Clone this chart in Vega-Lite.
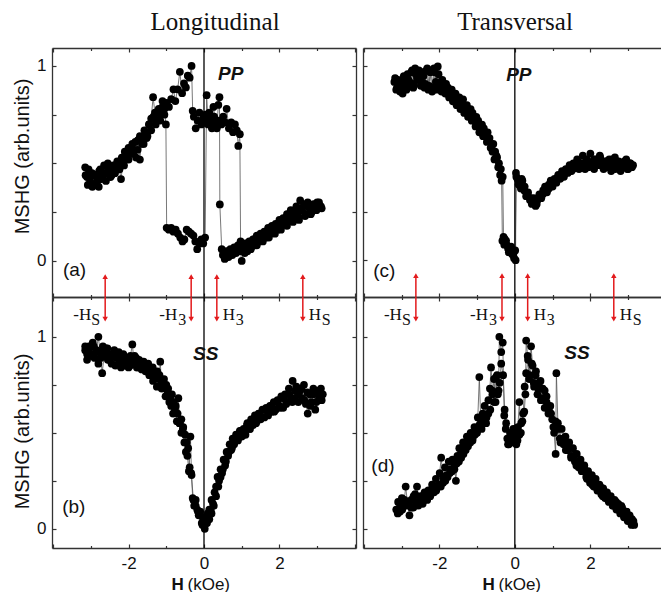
{
  "$schema": "https://vega.github.io/schema/vega-lite/v6.json",
  "background": "white",
  "padding": {"left": 12, "top": 10, "right": 0, "bottom": 0},
  "bounds": "flush",
  "columns": 2,
  "align": "each",
  "spacing": {"row": 0, "column": 7},
  "config": {
    "view": {"stroke": null},
    "font": "Liberation Sans",
    "axis": {"grid": false, "domainColor": "#333", "domainWidth": 1.3, "tickColor": "#333", "tickWidth": 1.2, "labelFont": "Liberation Sans", "labelColor": "#111", "titleFont": "Liberation Sans", "titleColor": "#111"}
  },
  "datasets": {
    "a": [{"x":-3.15,"y":0.48},{"x":-3.1,"y":0.43},{"x":-3.06,"y":0.47},{"x":-3.02,"y":0.4},{"x":-2.97,"y":0.45},{"x":-2.93,"y":0.39},{"x":-2.88,"y":0.44},{"x":-2.84,"y":0.41},{"x":-2.79,"y":0.38},{"x":-2.75,"y":0.47},{"x":-2.7,"y":0.43},{"x":-2.65,"y":0.49},{"x":-2.6,"y":0.45},{"x":-2.55,"y":0.5},{"x":-2.5,"y":0.46},{"x":-2.45,"y":0.44},{"x":-2.4,"y":0.49},{"x":-2.35,"y":0.47},{"x":-2.3,"y":0.51},{"x":-2.25,"y":0.48},{"x":-2.2,"y":0.42},{"x":-2.15,"y":0.5},{"x":-2.1,"y":0.56},{"x":-2.05,"y":0.53},{"x":-2.0,"y":0.58},{"x":-1.95,"y":0.55},{"x":-1.9,"y":0.6},{"x":-1.85,"y":0.57},{"x":-1.8,"y":0.53},{"x":-1.75,"y":0.62},{"x":-1.7,"y":0.52},{"x":-1.65,"y":0.63},{"x":-1.6,"y":0.6},{"x":-1.55,"y":0.66},{"x":-1.5,"y":0.64},{"x":-1.45,"y":0.7},{"x":-1.4,"y":0.73},{"x":-1.35,"y":0.84},{"x":-1.3,"y":0.76},{"x":-1.25,"y":0.72},{"x":-1.2,"y":0.78},{"x":-1.15,"y":0.75},{"x":-1.1,"y":0.82},{"x":-1.05,"y":0.78},{"x":-1.01,"y":0.7},{"x":-0.99,"y":0.17},{"x":-0.93,"y":0.16},{"x":-0.87,"y":0.17},{"x":-0.81,"y":0.15},{"x":-0.75,"y":0.16},{"x":-0.69,"y":0.14},{"x":-0.63,"y":0.12},{"x":-0.57,"y":0.1},{"x":-0.52,"y":0.11},{"x":-0.46,"y":0.16},{"x":-0.4,"y":0.15},{"x":-0.34,"y":0.14},{"x":-0.28,"y":0.13},{"x":-0.23,"y":0.1},{"x":-0.18,"y":0.06},{"x":-0.12,"y":0.09},{"x":-0.07,"y":0.11},{"x":-0.02,"y":0.09},{"x":0.03,"y":0.12},{"x":0.07,"y":0.85},{"x":0.11,"y":0.7},{"x":0.16,"y":0.74},{"x":0.21,"y":0.68},{"x":0.25,"y":0.79},{"x":0.3,"y":0.72},{"x":0.34,"y":0.68},{"x":0.38,"y":0.8},{"x":0.41,"y":0.84},{"x":0.42,"y":0.29},{"x":0.47,"y":0.06},{"x":0.5,"y":0.03},{"x":0.55,"y":0.01},{"x":0.6,"y":0.05},{"x":0.65,"y":0.02},{"x":0.7,"y":0.06},{"x":0.75,"y":0.03},{"x":0.8,"y":0.07},{"x":0.85,"y":0.04},{"x":0.9,"y":0.08},{"x":0.96,"y":0.05},{"x":1.0,"y":0.0},{"x":1.05,"y":0.06},{"x":1.1,"y":0.09},{"x":1.15,"y":0.05},{"x":1.2,"y":0.1},{"x":1.25,"y":0.07},{"x":1.3,"y":0.11},{"x":1.35,"y":0.08},{"x":1.4,"y":0.13},{"x":1.45,"y":0.1},{"x":1.5,"y":0.14},{"x":1.55,"y":0.11},{"x":1.6,"y":0.15},{"x":1.65,"y":0.12},{"x":1.7,"y":0.17},{"x":1.75,"y":0.14},{"x":1.8,"y":0.18},{"x":1.85,"y":0.15},{"x":1.9,"y":0.19},{"x":1.95,"y":0.16},{"x":2.0,"y":0.21},{"x":2.05,"y":0.18},{"x":2.1,"y":0.22},{"x":2.15,"y":0.2},{"x":2.2,"y":0.24},{"x":2.25,"y":0.21},{"x":2.3,"y":0.26},{"x":2.35,"y":0.22},{"x":2.4,"y":0.25},{"x":2.45,"y":0.28},{"x":2.5,"y":0.23},{"x":2.55,"y":0.31},{"x":2.6,"y":0.26},{"x":2.65,"y":0.29},{"x":2.7,"y":0.24},{"x":2.75,"y":0.3},{"x":2.8,"y":0.27},{"x":2.85,"y":0.25},{"x":2.9,"y":0.29},{"x":2.95,"y":0.26},{"x":3.0,"y":0.3},{"x":3.05,"y":0.27},{"x":3.1,"y":0.28},
      {"x":3.12,"y":0.27},{"x":3.05,"y":0.3},{"x":2.98,"y":0.26},{"x":2.9,"y":0.29},{"x":2.83,"y":0.24},{"x":2.76,"y":0.28},{"x":2.68,"y":0.23},{"x":2.6,"y":0.27},{"x":2.52,"y":0.21},{"x":2.44,"y":0.25},{"x":2.36,"y":0.2},{"x":2.28,"y":0.23},{"x":2.2,"y":0.18},{"x":2.12,"y":0.21},{"x":2.04,"y":0.16},{"x":1.96,"y":0.19},{"x":1.88,"y":0.14},{"x":1.8,"y":0.17},{"x":1.72,"y":0.12},{"x":1.64,"y":0.15},{"x":1.56,"y":0.1},{"x":1.48,"y":0.13},{"x":1.4,"y":0.08},{"x":1.32,"y":0.11},{"x":1.24,"y":0.06},{"x":1.16,"y":0.09},{"x":1.08,"y":0.04},{"x":1.0,"y":0.07},{"x":0.97,"y":0.1},{"x":0.95,"y":0.65},{"x":0.91,"y":0.59},{"x":0.87,"y":0.67},{"x":0.82,"y":0.7},{"x":0.77,"y":0.66},{"x":0.72,"y":0.71},{"x":0.66,"y":0.68},{"x":0.6,"y":0.78},{"x":0.56,"y":0.71},{"x":0.51,"y":0.74},{"x":0.46,"y":0.7},{"x":0.39,"y":0.72},{"x":0.33,"y":0.69},{"x":0.27,"y":0.74},{"x":0.2,"y":0.71},{"x":0.14,"y":0.76},{"x":0.09,"y":0.72},{"x":0.04,"y":0.75},{"x":-0.02,"y":0.73},{"x":-0.07,"y":0.7},{"x":-0.12,"y":0.76},{"x":-0.17,"y":0.72},{"x":-0.22,"y":0.68},{"x":-0.27,"y":0.74},{"x":-0.3,"y":0.77},{"x":-0.33,"y":1.0},{"x":-0.38,"y":0.94},{"x":-0.43,"y":0.95},{"x":-0.48,"y":0.89},{"x":-0.53,"y":0.91},{"x":-0.58,"y":0.86},{"x":-0.64,"y":0.97},{"x":-0.7,"y":0.88},{"x":-0.76,"y":0.82},{"x":-0.81,"y":0.88},{"x":-0.87,"y":0.83},{"x":-0.93,"y":0.79},{"x":-0.99,"y":0.81},{"x":-1.05,"y":0.75},{"x":-1.1,"y":0.79},{"x":-1.16,"y":0.72},{"x":-1.22,"y":0.76},{"x":-1.28,"y":0.7},{"x":-1.34,"y":0.74},{"x":-1.4,"y":0.67},{"x":-1.46,"y":0.7},{"x":-1.52,"y":0.63},{"x":-1.58,"y":0.67},{"x":-1.64,"y":0.6},{"x":-1.7,"y":0.64},{"x":-1.76,"y":0.57},{"x":-1.82,"y":0.61},{"x":-1.88,"y":0.55},{"x":-1.94,"y":0.58},{"x":-2.0,"y":0.52},{"x":-2.06,"y":0.55},{"x":-2.12,"y":0.49},{"x":-2.18,"y":0.53},{"x":-2.24,"y":0.47},{"x":-2.3,"y":0.5},{"x":-2.36,"y":0.45},{"x":-2.42,"y":0.48},{"x":-2.48,"y":0.43},{"x":-2.54,"y":0.47},{"x":-2.6,"y":0.41},{"x":-2.66,"y":0.45},{"x":-2.72,"y":0.42},{"x":-2.78,"y":0.46},{"x":-2.84,"y":0.4},{"x":-2.9,"y":0.44},{"x":-2.96,"y":0.38},{"x":-3.02,"y":0.43},{"x":-3.08,"y":0.39},{"x":-3.14,"y":0.44}],
    "c": [{"x":-3.19,"y":0.92},{"x":-3.14,"y":0.88},{"x":-3.09,"y":0.93},{"x":-3.04,"y":0.87},{"x":-2.99,"y":0.91},{"x":-2.94,"y":0.95},{"x":-2.89,"y":0.9},{"x":-2.84,"y":0.96},{"x":-2.79,"y":0.92},{"x":-2.74,"y":0.97},{"x":-2.69,"y":0.89},{"x":-2.64,"y":0.99},{"x":-2.59,"y":0.94},{"x":-2.54,"y":0.98},{"x":-2.49,"y":0.9},{"x":-2.44,"y":0.97},{"x":-2.39,"y":0.89},{"x":-2.34,"y":0.98},{"x":-2.29,"y":0.88},{"x":-2.24,"y":0.97},{"x":-2.19,"y":0.87},{"x":-2.14,"y":0.99},{"x":-2.09,"y":0.92},{"x":-2.04,"y":1.0},{"x":-1.99,"y":0.9},{"x":-1.94,"y":0.87},{"x":-1.89,"y":0.9},{"x":-1.84,"y":0.86},{"x":-1.79,"y":0.88},{"x":-1.74,"y":0.84},{"x":-1.69,"y":0.86},{"x":-1.64,"y":0.82},{"x":-1.59,"y":0.84},{"x":-1.54,"y":0.8},{"x":-1.49,"y":0.82},{"x":-1.44,"y":0.78},{"x":-1.39,"y":0.8},{"x":-1.34,"y":0.76},{"x":-1.29,"y":0.78},{"x":-1.24,"y":0.74},{"x":-1.19,"y":0.76},{"x":-1.14,"y":0.72},{"x":-1.09,"y":0.73},{"x":-1.04,"y":0.69},{"x":-0.99,"y":0.7},{"x":-0.94,"y":0.66},{"x":-0.89,"y":0.67},{"x":-0.84,"y":0.64},{"x":-0.79,"y":0.65},{"x":-0.74,"y":0.61},{"x":-0.69,"y":0.62},{"x":-0.64,"y":0.58},{"x":-0.59,"y":0.56},{"x":-0.54,"y":0.52},{"x":-0.49,"y":0.54},{"x":-0.44,"y":0.48},{"x":-0.39,"y":0.44},{"x":-0.35,"y":0.41},{"x":-0.33,"y":0.1},{"x":-0.28,"y":0.08},{"x":-0.23,"y":0.1},{"x":-0.18,"y":0.06},{"x":-0.12,"y":0.05},{"x":-0.07,"y":0.03},{"x":-0.02,"y":0.01},{"x":0.02,"y":0.0},{"x":0.03,"y":0.45},{"x":0.07,"y":0.42},{"x":0.11,"y":0.4},{"x":0.16,"y":0.37},{"x":0.2,"y":0.41},{"x":0.25,"y":0.36},{"x":0.3,"y":0.33},{"x":0.35,"y":0.35},{"x":0.4,"y":0.31},{"x":0.45,"y":0.29},{"x":0.5,"y":0.32},{"x":0.55,"y":0.28},{"x":0.6,"y":0.31},{"x":0.65,"y":0.34},{"x":0.7,"y":0.32},{"x":0.75,"y":0.36},{"x":0.8,"y":0.38},{"x":0.85,"y":0.35},{"x":0.9,"y":0.39},{"x":0.95,"y":0.41},{"x":1.0,"y":0.38},{"x":1.05,"y":0.42},{"x":1.1,"y":0.4},{"x":1.15,"y":0.44},{"x":1.2,"y":0.42},{"x":1.25,"y":0.46},{"x":1.3,"y":0.43},{"x":1.35,"y":0.47},{"x":1.4,"y":0.45},{"x":1.45,"y":0.49},{"x":1.5,"y":0.46},{"x":1.55,"y":0.5},{"x":1.6,"y":0.48},{"x":1.65,"y":0.52},{"x":1.7,"y":0.47},{"x":1.75,"y":0.5},{"x":1.8,"y":0.54},{"x":1.85,"y":0.49},{"x":1.9,"y":0.52},{"x":1.95,"y":0.48},{"x":2.0,"y":0.55},{"x":2.05,"y":0.5},{"x":2.1,"y":0.47},{"x":2.15,"y":0.52},{"x":2.2,"y":0.49},{"x":2.25,"y":0.54},{"x":2.3,"y":0.5},{"x":2.35,"y":0.47},{"x":2.4,"y":0.51},{"x":2.45,"y":0.48},{"x":2.5,"y":0.52},{"x":2.55,"y":0.46},{"x":2.6,"y":0.5},{"x":2.65,"y":0.53},{"x":2.7,"y":0.48},{"x":2.75,"y":0.51},{"x":2.8,"y":0.46},{"x":2.85,"y":0.5},{"x":2.9,"y":0.48},{"x":2.95,"y":0.52},{"x":3.0,"y":0.47},{"x":3.05,"y":0.5},{"x":3.1,"y":0.48},
      {"x":3.13,"y":0.49},{"x":3.06,"y":0.5},{"x":2.98,"y":0.47},{"x":2.9,"y":0.51},{"x":2.82,"y":0.48},{"x":2.74,"y":0.5},{"x":2.66,"y":0.47},{"x":2.58,"y":0.52},{"x":2.5,"y":0.49},{"x":2.42,"y":0.51},{"x":2.34,"y":0.48},{"x":2.26,"y":0.53},{"x":2.18,"y":0.49},{"x":2.1,"y":0.52},{"x":2.02,"y":0.5},{"x":1.94,"y":0.51},{"x":1.86,"y":0.47},{"x":1.78,"y":0.5},{"x":1.7,"y":0.48},{"x":1.62,"y":0.49},{"x":1.54,"y":0.47},{"x":1.46,"y":0.46},{"x":1.38,"y":0.46},{"x":1.3,"y":0.44},{"x":1.22,"y":0.43},{"x":1.14,"y":0.43},{"x":1.06,"y":0.41},{"x":0.98,"y":0.4},{"x":0.9,"y":0.37},{"x":0.82,"y":0.37},{"x":0.74,"y":0.34},{"x":0.66,"y":0.32},{"x":0.58,"y":0.29},{"x":0.5,"y":0.3},{"x":0.42,"y":0.32},{"x":0.34,"y":0.34},{"x":0.26,"y":0.38},{"x":0.18,"y":0.42},{"x":0.1,"y":0.39},{"x":0.04,"y":0.43},{"x":0.01,"y":0.05},{"x":-0.04,"y":0.03},{"x":-0.1,"y":0.07},{"x":-0.16,"y":0.04},{"x":-0.22,"y":0.08},{"x":-0.27,"y":0.11},{"x":-0.3,"y":0.12},{"x":-0.32,"y":0.43},{"x":-0.37,"y":0.47},{"x":-0.42,"y":0.5},{"x":-0.47,"y":0.53},{"x":-0.52,"y":0.56},{"x":-0.57,"y":0.6},{"x":-0.62,"y":0.58},{"x":-0.67,"y":0.63},{"x":-0.72,"y":0.66},{"x":-0.77,"y":0.64},{"x":-0.82,"y":0.68},{"x":-0.87,"y":0.7},{"x":-0.92,"y":0.68},{"x":-0.97,"y":0.72},{"x":-1.02,"y":0.74},{"x":-1.07,"y":0.72},{"x":-1.12,"y":0.76},{"x":-1.17,"y":0.78},{"x":-1.22,"y":0.76},{"x":-1.27,"y":0.8},{"x":-1.32,"y":0.79},{"x":-1.37,"y":0.83},{"x":-1.42,"y":0.81},{"x":-1.47,"y":0.84},{"x":-1.52,"y":0.83},{"x":-1.57,"y":0.86},{"x":-1.62,"y":0.85},{"x":-1.67,"y":0.88},{"x":-1.72,"y":0.87},{"x":-1.77,"y":0.89},{"x":-1.82,"y":0.91},{"x":-1.87,"y":0.88},{"x":-1.92,"y":0.93},{"x":-1.97,"y":0.9},{"x":-2.02,"y":0.96},{"x":-2.07,"y":0.88},{"x":-2.12,"y":0.97},{"x":-2.17,"y":0.89},{"x":-2.22,"y":0.98},{"x":-2.27,"y":0.9},{"x":-2.32,"y":0.99},{"x":-2.37,"y":0.91},{"x":-2.42,"y":0.95},{"x":-2.47,"y":0.92},{"x":-2.52,"y":0.97},{"x":-2.57,"y":0.93},{"x":-2.62,"y":0.96},{"x":-2.67,"y":0.91},{"x":-2.72,"y":0.98},{"x":-2.77,"y":0.9},{"x":-2.82,"y":0.93},{"x":-2.87,"y":0.88},{"x":-2.92,"y":0.92},{"x":-2.97,"y":0.86},{"x":-3.02,"y":0.9},{"x":-3.07,"y":0.92},{"x":-3.12,"y":0.89},{"x":-3.17,"y":0.94}],
    "b": [{"x":-3.15,"y":0.93},{"x":-3.1,"y":0.88},{"x":-3.05,"y":0.95},{"x":-3.0,"y":0.91},{"x":-2.95,"y":0.97},{"x":-2.9,"y":0.89},{"x":-2.85,"y":0.93},{"x":-2.8,"y":0.86},{"x":-2.75,"y":0.92},{"x":-2.7,"y":0.81},{"x":-2.65,"y":0.9},{"x":-2.6,"y":0.94},{"x":-2.55,"y":0.88},{"x":-2.5,"y":0.91},{"x":-2.45,"y":0.86},{"x":-2.4,"y":0.9},{"x":-2.35,"y":0.85},{"x":-2.3,"y":0.91},{"x":-2.25,"y":0.87},{"x":-2.2,"y":0.84},{"x":-2.15,"y":0.89},{"x":-2.1,"y":0.85},{"x":-2.05,"y":0.88},{"x":-2.0,"y":0.84},{"x":-1.95,"y":0.9},{"x":-1.9,"y":0.96},{"x":-1.85,"y":0.86},{"x":-1.8,"y":0.89},{"x":-1.75,"y":0.84},{"x":-1.7,"y":0.87},{"x":-1.65,"y":0.83},{"x":-1.6,"y":0.86},{"x":-1.55,"y":0.82},{"x":-1.5,"y":0.85},{"x":-1.45,"y":0.8},{"x":-1.4,"y":0.83},{"x":-1.35,"y":0.77},{"x":-1.3,"y":0.8},{"x":-1.25,"y":0.74},{"x":-1.2,"y":0.78},{"x":-1.16,"y":0.87},{"x":-1.12,"y":0.73},{"x":-1.07,"y":0.76},{"x":-1.02,"y":0.69},{"x":-0.97,"y":0.72},{"x":-0.92,"y":0.66},{"x":-0.87,"y":0.64},{"x":-0.82,"y":0.6},{"x":-0.77,"y":0.62},{"x":-0.72,"y":0.56},{"x":-0.68,"y":0.68},{"x":-0.64,"y":0.55},{"x":-0.6,"y":0.5},{"x":-0.56,"y":0.52},{"x":-0.52,"y":0.45},{"x":-0.48,"y":0.4},{"x":-0.44,"y":0.38},{"x":-0.4,"y":0.3},{"x":-0.36,"y":0.48},{"x":-0.33,"y":0.28},{"x":-0.3,"y":0.16},{"x":-0.26,"y":0.12},{"x":-0.22,"y":0.15},{"x":-0.18,"y":0.1},{"x":-0.14,"y":0.07},{"x":-0.1,"y":0.09},{"x":-0.06,"y":0.03},{"x":-0.02,"y":0.05},{"x":0.02,"y":0.0},{"x":0.06,"y":0.03},{"x":0.1,"y":0.08},{"x":0.14,"y":0.05},{"x":0.18,"y":0.1},{"x":0.2,"y":0.15},{"x":0.24,"y":0.13},{"x":0.28,"y":0.19},{"x":0.32,"y":0.22},{"x":0.36,"y":0.27},{"x":0.4,"y":0.25},{"x":0.44,"y":0.31},{"x":0.48,"y":0.29},{"x":0.52,"y":0.36},{"x":0.56,"y":0.33},{"x":0.6,"y":0.4},{"x":0.64,"y":0.38},{"x":0.68,"y":0.44},{"x":0.72,"y":0.41},{"x":0.76,"y":0.47},{"x":0.8,"y":0.44},{"x":0.85,"y":0.49},{"x":0.9,"y":0.46},{"x":0.95,"y":0.51},{"x":1.0,"y":0.48},{"x":1.05,"y":0.52},{"x":1.1,"y":0.49},{"x":1.15,"y":0.55},{"x":1.2,"y":0.52},{"x":1.25,"y":0.57},{"x":1.3,"y":0.54},{"x":1.35,"y":0.59},{"x":1.4,"y":0.56},{"x":1.45,"y":0.6},{"x":1.5,"y":0.57},{"x":1.55,"y":0.62},{"x":1.6,"y":0.58},{"x":1.65,"y":0.63},{"x":1.7,"y":0.6},{"x":1.75,"y":0.64},{"x":1.8,"y":0.61},{"x":1.85,"y":0.66},{"x":1.9,"y":0.62},{"x":1.95,"y":0.67},{"x":2.0,"y":0.64},{"x":2.05,"y":0.69},{"x":2.1,"y":0.63},{"x":2.15,"y":0.7},{"x":2.2,"y":0.66},{"x":2.25,"y":0.73},{"x":2.3,"y":0.67},{"x":2.35,"y":0.77},{"x":2.4,"y":0.68},{"x":2.45,"y":0.74},{"x":2.5,"y":0.66},{"x":2.55,"y":0.72},{"x":2.6,"y":0.68},{"x":2.65,"y":0.75},{"x":2.7,"y":0.65},{"x":2.75,"y":0.6},{"x":2.8,"y":0.7},{"x":2.85,"y":0.66},{"x":2.9,"y":0.73},{"x":2.95,"y":0.62},{"x":3.0,"y":0.71},{"x":3.05,"y":0.68},{"x":3.1,"y":0.73},{"x":3.15,"y":0.7},
      {"x":3.12,"y":0.67},{"x":3.05,"y":0.72},{"x":2.98,"y":0.66},{"x":2.9,"y":0.7},{"x":2.82,"y":0.64},{"x":2.74,"y":0.71},{"x":2.66,"y":0.67},{"x":2.58,"y":0.73},{"x":2.5,"y":0.7},{"x":2.42,"y":0.72},{"x":2.34,"y":0.66},{"x":2.26,"y":0.7},{"x":2.18,"y":0.65},{"x":2.1,"y":0.68},{"x":2.02,"y":0.63},{"x":1.94,"y":0.66},{"x":1.86,"y":0.61},{"x":1.78,"y":0.64},{"x":1.7,"y":0.59},{"x":1.62,"y":0.62},{"x":1.54,"y":0.58},{"x":1.46,"y":0.6},{"x":1.38,"y":0.55},{"x":1.3,"y":0.57},{"x":1.22,"y":0.52},{"x":1.14,"y":0.54},{"x":1.06,"y":0.49},{"x":0.98,"y":0.51},{"x":0.9,"y":0.47},{"x":0.82,"y":0.47},{"x":0.74,"y":0.42},{"x":0.66,"y":0.4},{"x":0.58,"y":0.35},{"x":0.5,"y":0.31},{"x":0.44,"y":0.27},{"x":0.38,"y":0.22},{"x":0.32,"y":0.17},{"x":0.26,"y":0.12},{"x":0.2,"y":0.08},{"x":0.14,"y":0.1},{"x":0.08,"y":0.03},{"x":0.02,"y":0.06},{"x":-0.04,"y":0.02},{"x":-0.1,"y":0.07},{"x":-0.16,"y":0.09},{"x":-0.22,"y":0.12},{"x":-0.28,"y":0.15},{"x":-0.34,"y":0.29},{"x":-0.38,"y":0.32},{"x":-0.42,"y":0.42},{"x":-0.46,"y":0.45},{"x":-0.5,"y":0.49},{"x":-0.55,"y":0.53},{"x":-0.6,"y":0.57},{"x":-0.65,"y":0.55},{"x":-0.7,"y":0.6},{"x":-0.75,"y":0.64},{"x":-0.8,"y":0.66},{"x":-0.85,"y":0.7},{"x":-0.9,"y":0.68},{"x":-0.95,"y":0.73},{"x":-1.0,"y":0.75},{"x":-1.06,"y":0.78},{"x":-1.12,"y":0.76},{"x":-1.18,"y":0.8},{"x":-1.24,"y":0.82},{"x":-1.3,"y":0.79},{"x":-1.36,"y":0.84},{"x":-1.42,"y":0.81},{"x":-1.48,"y":0.86},{"x":-1.54,"y":0.84},{"x":-1.6,"y":0.87},{"x":-1.66,"y":0.85},{"x":-1.72,"y":0.88},{"x":-1.78,"y":0.84},{"x":-1.84,"y":0.9},{"x":-1.9,"y":0.87},{"x":-1.96,"y":0.85},{"x":-2.02,"y":0.89},{"x":-2.08,"y":0.86},{"x":-2.14,"y":0.91},{"x":-2.2,"y":0.88},{"x":-2.26,"y":0.92},{"x":-2.32,"y":0.89},{"x":-2.38,"y":0.93},{"x":-2.44,"y":0.9},{"x":-2.5,"y":0.88},{"x":-2.56,"y":0.94},{"x":-2.62,"y":0.91},{"x":-2.68,"y":0.95},{"x":-2.74,"y":0.89},{"x":-2.8,"y":1.0},{"x":-2.86,"y":0.92},{"x":-2.92,"y":0.95},{"x":-2.98,"y":0.9},{"x":-3.04,"y":0.94},{"x":-3.1,"y":0.91},{"x":-3.15,"y":0.95}],
    "d": [{"x":-3.14,"y":0.1},{"x":-3.09,"y":0.14},{"x":-3.04,"y":0.09},{"x":-2.99,"y":0.16},{"x":-2.94,"y":0.12},{"x":-2.89,"y":0.22},{"x":-2.84,"y":0.13},{"x":-2.79,"y":0.07},{"x":-2.74,"y":0.15},{"x":-2.69,"y":0.11},{"x":-2.64,"y":0.18},{"x":-2.59,"y":0.22},{"x":-2.54,"y":0.13},{"x":-2.49,"y":0.17},{"x":-2.44,"y":0.14},{"x":-2.39,"y":0.19},{"x":-2.34,"y":0.16},{"x":-2.29,"y":0.2},{"x":-2.24,"y":0.17},{"x":-2.19,"y":0.23},{"x":-2.14,"y":0.2},{"x":-2.09,"y":0.26},{"x":-2.04,"y":0.22},{"x":-1.99,"y":0.29},{"x":-1.95,"y":0.37},{"x":-1.9,"y":0.27},{"x":-1.85,"y":0.32},{"x":-1.8,"y":0.28},{"x":-1.75,"y":0.35},{"x":-1.7,"y":0.31},{"x":-1.65,"y":0.36},{"x":-1.6,"y":0.33},{"x":-1.56,"y":0.25},{"x":-1.52,"y":0.38},{"x":-1.47,"y":0.42},{"x":-1.42,"y":0.39},{"x":-1.37,"y":0.45},{"x":-1.32,"y":0.42},{"x":-1.27,"y":0.48},{"x":-1.22,"y":0.45},{"x":-1.17,"y":0.5},{"x":-1.12,"y":0.47},{"x":-1.07,"y":0.53},{"x":-1.02,"y":0.5},{"x":-0.98,"y":0.58},{"x":-0.94,"y":0.79},{"x":-0.9,"y":0.55},{"x":-0.85,"y":0.6},{"x":-0.8,"y":0.64},{"x":-0.75,"y":0.58},{"x":-0.7,"y":0.67},{"x":-0.66,"y":0.73},{"x":-0.63,"y":0.84},{"x":-0.59,"y":0.7},{"x":-0.55,"y":0.78},{"x":-0.51,"y":0.66},{"x":-0.47,"y":0.8},{"x":-0.43,"y":0.72},{"x":-0.41,"y":1.0},{"x":-0.36,"y":0.92},{"x":-0.32,"y":0.97},{"x":-0.28,"y":0.59},{"x":-0.24,"y":0.52},{"x":-0.2,"y":0.47},{"x":-0.16,"y":0.44},{"x":-0.12,"y":0.5},{"x":-0.08,"y":0.46},{"x":-0.04,"y":0.52},{"x":0.0,"y":0.48},{"x":0.04,"y":0.44},{"x":0.08,"y":0.53},{"x":0.12,"y":0.66},{"x":0.16,"y":0.5},{"x":0.2,"y":0.56},{"x":0.25,"y":0.61},{"x":0.28,"y":0.7},{"x":0.3,"y":0.98},{"x":0.34,"y":0.9},{"x":0.38,"y":0.78},{"x":0.43,"y":0.95},{"x":0.47,"y":0.85},{"x":0.51,"y":0.74},{"x":0.55,"y":0.8},{"x":0.6,"y":0.7},{"x":0.64,"y":0.76},{"x":0.69,"y":0.67},{"x":0.74,"y":0.73},{"x":0.79,"y":0.63},{"x":0.84,"y":0.69},{"x":0.89,"y":0.6},{"x":0.94,"y":0.64},{"x":0.99,"y":0.57},{"x":1.04,"y":0.5},{"x":1.08,"y":0.39},{"x":1.1,"y":0.81},{"x":1.14,"y":0.55},{"x":1.19,"y":0.47},{"x":1.24,"y":0.52},{"x":1.29,"y":0.44},{"x":1.34,"y":0.48},{"x":1.39,"y":0.41},{"x":1.44,"y":0.45},{"x":1.49,"y":0.38},{"x":1.54,"y":0.42},{"x":1.59,"y":0.35},{"x":1.64,"y":0.39},{"x":1.69,"y":0.32},{"x":1.74,"y":0.36},{"x":1.79,"y":0.3},{"x":1.84,"y":0.33},{"x":1.89,"y":0.27},{"x":1.94,"y":0.3},{"x":1.99,"y":0.24},{"x":2.04,"y":0.28},{"x":2.09,"y":0.22},{"x":2.14,"y":0.26},{"x":2.19,"y":0.2},{"x":2.24,"y":0.23},{"x":2.29,"y":0.18},{"x":2.34,"y":0.21},{"x":2.39,"y":0.16},{"x":2.44,"y":0.19},{"x":2.49,"y":0.14},{"x":2.54,"y":0.17},{"x":2.59,"y":0.12},{"x":2.64,"y":0.15},{"x":2.69,"y":0.1},{"x":2.74,"y":0.13},{"x":2.79,"y":0.08},{"x":2.84,"y":0.11},{"x":2.89,"y":0.06},{"x":2.94,"y":0.09},{"x":2.99,"y":0.04},{"x":3.04,"y":0.07},{"x":3.09,"y":0.02},{"x":3.14,"y":0.04},
      {"x":3.16,"y":0.02},{"x":3.1,"y":0.05},{"x":3.03,"y":0.06},{"x":2.96,"y":0.09},{"x":2.89,"y":0.08},{"x":2.82,"y":0.12},{"x":2.75,"y":0.1},{"x":2.68,"y":0.14},{"x":2.61,"y":0.12},{"x":2.54,"y":0.16},{"x":2.47,"y":0.15},{"x":2.4,"y":0.19},{"x":2.33,"y":0.17},{"x":2.26,"y":0.22},{"x":2.19,"y":0.2},{"x":2.12,"y":0.25},{"x":2.05,"y":0.23},{"x":1.98,"y":0.28},{"x":1.91,"y":0.26},{"x":1.84,"y":0.31},{"x":1.77,"y":0.3},{"x":1.7,"y":0.35},{"x":1.63,"y":0.33},{"x":1.56,"y":0.38},{"x":1.49,"y":0.37},{"x":1.42,"y":0.42},{"x":1.35,"y":0.41},{"x":1.28,"y":0.47},{"x":1.21,"y":0.45},{"x":1.14,"y":0.52},{"x":1.08,"y":0.56},{"x":1.02,"y":0.53},{"x":0.96,"y":0.6},{"x":0.9,"y":0.62},{"x":0.84,"y":0.66},{"x":0.79,"y":0.72},{"x":0.74,"y":0.68},{"x":0.68,"y":0.77},{"x":0.62,"y":0.73},{"x":0.56,"y":0.82},{"x":0.5,"y":0.76},{"x":0.45,"y":0.86},{"x":0.4,"y":0.8},{"x":0.35,"y":0.88},{"x":0.3,"y":0.81},{"x":0.26,"y":0.74},{"x":0.22,"y":0.6},{"x":0.17,"y":0.55},{"x":0.12,"y":0.49},{"x":0.07,"y":0.46},{"x":0.02,"y":0.51},{"x":-0.03,"y":0.45},{"x":-0.08,"y":0.5},{"x":-0.13,"y":0.47},{"x":-0.18,"y":0.44},{"x":-0.23,"y":0.55},{"x":-0.27,"y":0.62},{"x":-0.31,"y":0.8},{"x":-0.36,"y":0.86},{"x":-0.4,"y":0.76},{"x":-0.45,"y":0.7},{"x":-0.5,"y":0.79},{"x":-0.55,"y":0.66},{"x":-0.6,"y":0.72},{"x":-0.65,"y":0.62},{"x":-0.7,"y":0.6},{"x":-0.76,"y":0.55},{"x":-0.82,"y":0.57},{"x":-0.88,"y":0.52},{"x":-0.94,"y":0.54},{"x":-1.0,"y":0.5},{"x":-1.06,"y":0.49},{"x":-1.12,"y":0.46},{"x":-1.18,"y":0.45},{"x":-1.24,"y":0.43},{"x":-1.3,"y":0.41},{"x":-1.36,"y":0.39},{"x":-1.42,"y":0.37},{"x":-1.48,"y":0.35},{"x":-1.54,"y":0.34},{"x":-1.6,"y":0.31},{"x":-1.66,"y":0.3},{"x":-1.72,"y":0.29},{"x":-1.78,"y":0.27},{"x":-1.84,"y":0.25},{"x":-1.9,"y":0.24},{"x":-1.96,"y":0.22},{"x":-2.02,"y":0.23},{"x":-2.08,"y":0.2},{"x":-2.14,"y":0.19},{"x":-2.2,"y":0.2},{"x":-2.26,"y":0.17},{"x":-2.32,"y":0.15},{"x":-2.38,"y":0.17},{"x":-2.44,"y":0.13},{"x":-2.5,"y":0.15},{"x":-2.56,"y":0.12},{"x":-2.62,"y":0.14},{"x":-2.68,"y":0.17},{"x":-2.74,"y":0.11},{"x":-2.8,"y":0.14},{"x":-2.86,"y":0.12},{"x":-2.92,"y":0.15},{"x":-2.98,"y":0.1},{"x":-3.04,"y":0.13},{"x":-3.1,"y":0.08}],
    "zero": [{"x": 0}],
    "arr": [{"x": -2.62}, {"x": -0.34}, {"x": 0.34}, {"x": 2.62}],
    "negL": [{"x": -2.62, "m": "-H", "s": "S"}, {"x": -0.34, "m": "-H", "s": "3"}],
    "posL": [{"x": 0.34, "m": "H", "s": "3"}, {"x": 2.62, "m": "H", "s": "S"}],
    "one": [{}]
  },
  "concat": [
    {
      "width": 304, "height": 249,
      "title": {"text": "Longitudinal", "font": "Liberation Serif", "fontSize": 25, "fontWeight": "normal", "color": "#111", "baseline": "alphabetic", "offset": -8, "dx": 11, "anchor": "middle"},
      "resolve": {"axis": {"x": "independent", "y": "independent"}},
      "layer": [
        {"data": {"name": "a"}, "mark": {"type": "line", "color": "#555", "strokeWidth": 0.8},
         "encoding": {
           "x": {"field": "x", "type": "quantitative", "scale": {"domain": [-4.03, 4.03], "nice": false, "zero": false},
                 "axis": {"orient": "bottom", "values": [-4, -2, 0, 2, 4], "labels": false, "tickSize": -4, "title": null}},
           "y": {"field": "y", "type": "quantitative", "scale": {"domain": [-0.185, 1.092], "nice": false, "zero": false},
                 "axis": {"orient": "left", "values": [0, 0.25, 0.5, 0.75, 1], "tickSize": -4, "labelFontSize": 17, "labelPadding": 10, "labelExpr": "datum.value == 0 ? '0' : (datum.value == 1 ? '1' : '')", "title": "MSHG (arb.units)", "titleFontSize": 20, "titleFontWeight": "normal", "titleAngle": -90, "titleX": -30, "titleY": 108, "titleAlign": "center", "titleBaseline": "middle"}},
           "order": {"value": null}}},
        {"data": {"name": "a"}, "mark": {"type": "circle", "color": "black", "size": 60, "opacity": 1},
         "encoding": {
           "x": {"field": "x", "type": "quantitative", "axis": {"orient": "bottom", "values": [-3, -1, 1, 3], "labels": false, "domain": false, "tickSize": -2.5, "title": null}},
           "y": {"field": "y", "type": "quantitative", "axis": {"orient": "right", "values": [0, 0.25, 0.5, 0.75, 1], "labels": false, "tickSize": -4, "title": null}}}},
        {"data": {"name": "zero"}, "mark": {"type": "rule", "color": "black", "strokeWidth": 1.3},
         "encoding": {"x": {"field": "x", "type": "quantitative", "axis": {"orient": "top", "values": [-4, -2, 0, 2, 4], "labels": false, "tickSize": -4, "title": null}}}},
        {"data": {"name": "arr"}, "mark": {"type": "rule", "color": "#e31a1c", "strokeWidth": 1.5},
         "encoding": {
           "x": {"field": "x", "type": "quantitative", "axis": {"orient": "top", "values": [-3, -1, 1, 3], "labels": false, "domain": false, "tickSize": -2.5, "title": null}},
           "y": {"datum": -0.08, "type": "quantitative", "axis": null}, "y2": {"datum": -0.185}}},
        {"data": {"name": "arr"}, "mark": {"type": "point", "shape": "triangle-up", "filled": true, "color": "#e31a1c", "size": 30, "opacity": 1},
         "encoding": {"x": {"field": "x", "type": "quantitative", "axis": null}, "y": {"datum": -0.08, "type": "quantitative", "axis": null}}},
        {"data": {"name": "one"}, "mark": {"type": "text", "text": "(a)", "font": "Liberation Sans", "fontSize": 19, "align": "left", "baseline": "middle", "color": "#111"},
         "encoding": {"x": {"datum": -3.74, "type": "quantitative", "axis": null}, "y": {"datum": -0.049, "type": "quantitative", "axis": null}}},
        {"data": {"name": "one"}, "mark": {"type": "text", "text": "PP", "font": "Liberation Sans", "fontSize": 19, "fontWeight": "bold", "fontStyle": "italic", "align": "left", "baseline": "middle", "color": "#111"},
         "encoding": {"x": {"datum": 0.37, "type": "quantitative", "axis": null}, "y": {"datum": 0.96, "type": "quantitative", "axis": null}}}
      ]
    },
    {
      "width": 298, "height": 249,
      "title": {"text": "Transversal", "font": "Liberation Serif", "fontSize": 25, "fontWeight": "normal", "color": "#111", "baseline": "alphabetic", "offset": -8, "dx": 3, "anchor": "middle"},
      "resolve": {"axis": {"x": "independent", "y": "independent"}},
      "layer": [
        {"data": {"name": "c"}, "mark": {"type": "line", "color": "#555", "strokeWidth": 0.8},
         "encoding": {
           "x": {"field": "x", "type": "quantitative", "scale": {"domain": [-4.02, 3.87], "nice": false, "zero": false},
                 "axis": {"orient": "bottom", "values": [-4, -2, 0, 2], "labels": false, "tickSize": -4, "title": null}},
           "y": {"field": "y", "type": "quantitative", "scale": {"domain": [-0.19, 1.095], "nice": false, "zero": false},
                 "axis": {"orient": "left", "values": [0, 0.25, 0.5, 0.75, 1], "labels": false, "tickSize": -4, "title": null}},
           "order": {"value": null}}},
        {"data": {"name": "c"}, "mark": {"type": "circle", "color": "black", "size": 60, "opacity": 1},
         "encoding": {
           "x": {"field": "x", "type": "quantitative", "axis": {"orient": "bottom", "values": [-3, -1, 1, 3], "labels": false, "domain": false, "tickSize": -2.5, "title": null}},
           "y": {"field": "y", "type": "quantitative", "axis": null}}},
        {"data": {"name": "zero"}, "mark": {"type": "rule", "color": "black", "strokeWidth": 1.3},
         "encoding": {"x": {"field": "x", "type": "quantitative", "axis": {"orient": "top", "values": [-4, -2, 0, 2], "labels": false, "tickSize": -4, "title": null}}}},
        {"data": {"name": "arr"}, "mark": {"type": "rule", "color": "#e31a1c", "strokeWidth": 1.5},
         "encoding": {
           "x": {"field": "x", "type": "quantitative", "axis": {"orient": "top", "values": [-3, -1, 1, 3], "labels": false, "domain": false, "tickSize": -2.5, "title": null}},
           "y": {"datum": -0.08, "type": "quantitative", "axis": null}, "y2": {"datum": -0.19}}},
        {"data": {"name": "arr"}, "mark": {"type": "point", "shape": "triangle-up", "filled": true, "color": "#e31a1c", "size": 30, "opacity": 1},
         "encoding": {"x": {"field": "x", "type": "quantitative", "axis": null}, "y": {"datum": -0.08, "type": "quantitative", "axis": null}}},
        {"data": {"name": "one"}, "mark": {"type": "text", "text": "(c)", "font": "Liberation Sans", "fontSize": 19, "align": "left", "baseline": "middle", "color": "#111"},
         "encoding": {"x": {"datum": -3.75, "type": "quantitative", "axis": null}, "y": {"datum": -0.054, "type": "quantitative", "axis": null}}},
        {"data": {"name": "one"}, "mark": {"type": "text", "text": "PP", "font": "Liberation Sans", "fontSize": 19, "fontWeight": "bold", "fontStyle": "italic", "align": "left", "baseline": "middle", "color": "#111"},
         "encoding": {"x": {"datum": -0.23, "type": "quantitative", "axis": null}, "y": {"datum": 0.954, "type": "quantitative", "axis": null}}}
      ]
    },
    {
      "width": 304, "height": 251,
      "resolve": {"axis": {"x": "independent", "y": "independent"}},
      "layer": [
        {"data": {"name": "b"}, "mark": {"type": "line", "color": "#555", "strokeWidth": 0.8},
         "encoding": {
           "x": {"field": "x", "type": "quantitative", "scale": {"domain": [-4.03, 4.03], "nice": false, "zero": false},
                 "axis": {"orient": "bottom", "values": [-4, -2, 0, 2, 4], "tickSize": -4, "labelFontSize": 17, "labelPadding": 11, "labelExpr": "abs(datum.value) == 4 ? '' : (datum.value < 0 ? '-' + abs(datum.value) : '' + datum.value)", "title": "(kOe)", "titleFontSize": 17, "titleFontWeight": "normal", "titleAlign": "left", "titleBaseline": "alphabetic", "titleX": 135, "titleY": 41}},
           "y": {"field": "y", "type": "quantitative", "scale": {"domain": [-0.1, 1.207], "nice": false, "zero": false},
                 "axis": {"orient": "left", "values": [0, 0.25, 0.5, 0.75, 1], "tickSize": -4, "labelFontSize": 17, "labelPadding": 10, "labelExpr": "datum.value == 0 ? '0' : (datum.value == 1 ? '1' : '')", "title": "MSHG (arb.units)", "titleFontSize": 20, "titleFontWeight": "normal", "titleAngle": -90, "titleX": -30, "titleY": 134, "titleAlign": "center", "titleBaseline": "middle"}},
           "order": {"value": null}}},
        {"data": {"name": "b"}, "mark": {"type": "circle", "color": "black", "size": 60, "opacity": 1},
         "encoding": {
           "x": {"field": "x", "type": "quantitative", "axis": {"orient": "bottom", "values": [-3, -1, 1, 3], "labels": false, "domain": false, "tickSize": -2.5, "title": "H", "titleFontSize": 17, "titleFontWeight": "bold", "titleAlign": "left", "titleBaseline": "alphabetic", "titleX": 119, "titleY": 41}},
           "y": {"field": "y", "type": "quantitative", "axis": {"orient": "right", "values": [0, 0.25, 0.5, 0.75, 1], "labels": false, "tickSize": -4, "title": null}}}},
        {"data": {"name": "zero"}, "mark": {"type": "rule", "color": "black", "strokeWidth": 1.3},
         "encoding": {"x": {"field": "x", "type": "quantitative", "axis": {"orient": "top", "values": [-4, -2, 0, 2, 4], "labels": false, "tickSize": -4, "title": null}}}},
        {"data": {"name": "arr"}, "mark": {"type": "rule", "color": "#e31a1c", "strokeWidth": 1.5},
         "encoding": {
           "x": {"field": "x", "type": "quantitative", "axis": {"orient": "top", "values": [-3, -1, 1, 3], "labels": false, "domain": false, "tickSize": -2.5, "title": null}},
           "y": {"datum": 1.207, "type": "quantitative", "axis": null}, "y2": {"datum": 1.092}}},
        {"data": {"name": "arr"}, "mark": {"type": "point", "shape": "triangle-down", "filled": true, "color": "#e31a1c", "size": 30, "opacity": 1},
         "encoding": {"x": {"field": "x", "type": "quantitative", "axis": null}, "y": {"datum": 1.092, "type": "quantitative", "axis": null}}},
        {"data": {"name": "negL"}, "mark": {"type": "text", "font": "Liberation Serif", "fontSize": 17, "align": "right", "baseline": "alphabetic", "dx": -14, "color": "#111"},
         "encoding": {"x": {"field": "x", "type": "quantitative", "axis": null}, "y": {"datum": 1.087, "type": "quantitative", "axis": null}, "text": {"field": "m"}}},
        {"data": {"name": "negL"}, "mark": {"type": "text", "font": "Liberation Serif", "fontSize": 16, "align": "right", "baseline": "alphabetic", "dx": -5, "dy": 5, "color": "#111"},
         "encoding": {"x": {"field": "x", "type": "quantitative", "axis": null}, "y": {"datum": 1.087, "type": "quantitative", "axis": null}, "text": {"field": "s"}}},
        {"data": {"name": "posL"}, "mark": {"type": "text", "font": "Liberation Serif", "fontSize": 17, "align": "left", "baseline": "alphabetic", "dx": 6, "color": "#111"},
         "encoding": {"x": {"field": "x", "type": "quantitative", "axis": null}, "y": {"datum": 1.087, "type": "quantitative", "axis": null}, "text": {"field": "m"}}},
        {"data": {"name": "posL"}, "mark": {"type": "text", "font": "Liberation Serif", "fontSize": 16, "align": "left", "baseline": "alphabetic", "dx": 19, "dy": 5, "color": "#111"},
         "encoding": {"x": {"field": "x", "type": "quantitative", "axis": null}, "y": {"datum": 1.087, "type": "quantitative", "axis": null}, "text": {"field": "s"}}},
        {"data": {"name": "one"}, "mark": {"type": "text", "text": "(b)", "font": "Liberation Sans", "fontSize": 19, "align": "left", "baseline": "middle", "color": "#111"},
         "encoding": {"x": {"datum": -3.76, "type": "quantitative", "axis": null}, "y": {"datum": 0.116, "type": "quantitative", "axis": null}}},
        {"data": {"name": "one"}, "mark": {"type": "text", "text": "SS", "font": "Liberation Sans", "fontSize": 19, "fontWeight": "bold", "fontStyle": "italic", "align": "left", "baseline": "middle", "color": "#111"},
         "encoding": {"x": {"datum": -0.29, "type": "quantitative", "axis": null}, "y": {"datum": 0.912, "type": "quantitative", "axis": null}}}
      ]
    },
    {
      "width": 298, "height": 251,
      "resolve": {"axis": {"x": "independent", "y": "independent"}},
      "layer": [
        {"data": {"name": "d"}, "mark": {"type": "line", "color": "#555", "strokeWidth": 0.8},
         "encoding": {
           "x": {"field": "x", "type": "quantitative", "scale": {"domain": [-4.02, 3.87], "nice": false, "zero": false},
                 "axis": {"orient": "bottom", "values": [-4, -2, 0, 2], "tickSize": -4, "labelFontSize": 17, "labelPadding": 11, "labelExpr": "abs(datum.value) == 4 ? '' : (datum.value < 0 ? '-' + abs(datum.value) : '' + datum.value)", "title": "(kOe)", "titleFontSize": 17, "titleFontWeight": "normal", "titleAlign": "left", "titleBaseline": "alphabetic", "titleX": 135, "titleY": 41}},
           "y": {"field": "y", "type": "quantitative", "scale": {"domain": [-0.1, 1.207], "nice": false, "zero": false},
                 "axis": {"orient": "left", "values": [0, 0.25, 0.5, 0.75, 1], "labels": false, "tickSize": -4, "title": null}},
           "order": {"value": null}}},
        {"data": {"name": "d"}, "mark": {"type": "circle", "color": "black", "size": 60, "opacity": 1},
         "encoding": {
           "x": {"field": "x", "type": "quantitative", "axis": {"orient": "bottom", "values": [-3, -1, 1, 3], "labels": false, "domain": false, "tickSize": -2.5, "title": "H", "titleFontSize": 17, "titleFontWeight": "bold", "titleAlign": "left", "titleBaseline": "alphabetic", "titleX": 119, "titleY": 41}},
           "y": {"field": "y", "type": "quantitative", "axis": null}}},
        {"data": {"name": "zero"}, "mark": {"type": "rule", "color": "black", "strokeWidth": 1.3},
         "encoding": {"x": {"field": "x", "type": "quantitative", "axis": {"orient": "top", "values": [-4, -2, 0, 2], "labels": false, "tickSize": -4, "title": null}}}},
        {"data": {"name": "arr"}, "mark": {"type": "rule", "color": "#e31a1c", "strokeWidth": 1.5},
         "encoding": {
           "x": {"field": "x", "type": "quantitative", "axis": {"orient": "top", "values": [-3, -1, 1, 3], "labels": false, "domain": false, "tickSize": -2.5, "title": null}},
           "y": {"datum": 1.207, "type": "quantitative", "axis": null}, "y2": {"datum": 1.092}}},
        {"data": {"name": "arr"}, "mark": {"type": "point", "shape": "triangle-down", "filled": true, "color": "#e31a1c", "size": 30, "opacity": 1},
         "encoding": {"x": {"field": "x", "type": "quantitative", "axis": null}, "y": {"datum": 1.092, "type": "quantitative", "axis": null}}},
        {"data": {"name": "negL"}, "mark": {"type": "text", "font": "Liberation Serif", "fontSize": 17, "align": "right", "baseline": "alphabetic", "dx": -14, "color": "#111"},
         "encoding": {"x": {"field": "x", "type": "quantitative", "axis": null}, "y": {"datum": 1.087, "type": "quantitative", "axis": null}, "text": {"field": "m"}}},
        {"data": {"name": "negL"}, "mark": {"type": "text", "font": "Liberation Serif", "fontSize": 16, "align": "right", "baseline": "alphabetic", "dx": -5, "dy": 5, "color": "#111"},
         "encoding": {"x": {"field": "x", "type": "quantitative", "axis": null}, "y": {"datum": 1.087, "type": "quantitative", "axis": null}, "text": {"field": "s"}}},
        {"data": {"name": "posL"}, "mark": {"type": "text", "font": "Liberation Serif", "fontSize": 17, "align": "left", "baseline": "alphabetic", "dx": 6, "color": "#111"},
         "encoding": {"x": {"field": "x", "type": "quantitative", "axis": null}, "y": {"datum": 1.087, "type": "quantitative", "axis": null}, "text": {"field": "m"}}},
        {"data": {"name": "posL"}, "mark": {"type": "text", "font": "Liberation Serif", "fontSize": 16, "align": "left", "baseline": "alphabetic", "dx": 19, "dy": 5, "color": "#111"},
         "encoding": {"x": {"field": "x", "type": "quantitative", "axis": null}, "y": {"datum": 1.087, "type": "quantitative", "axis": null}, "text": {"field": "s"}}},
        {"data": {"name": "one"}, "mark": {"type": "text", "text": "(d)", "font": "Liberation Sans", "fontSize": 19, "align": "left", "baseline": "middle", "color": "#111"},
         "encoding": {"x": {"datum": -3.8, "type": "quantitative", "axis": null}, "y": {"datum": 0.329, "type": "quantitative", "axis": null}}},
        {"data": {"name": "one"}, "mark": {"type": "text", "text": "SS", "font": "Liberation Sans", "fontSize": 19, "fontWeight": "bold", "fontStyle": "italic", "align": "left", "baseline": "middle", "color": "#111"},
         "encoding": {"x": {"datum": 1.31, "type": "quantitative", "axis": null}, "y": {"datum": 0.918, "type": "quantitative", "axis": null}}}
      ]
    }
  ]
}
